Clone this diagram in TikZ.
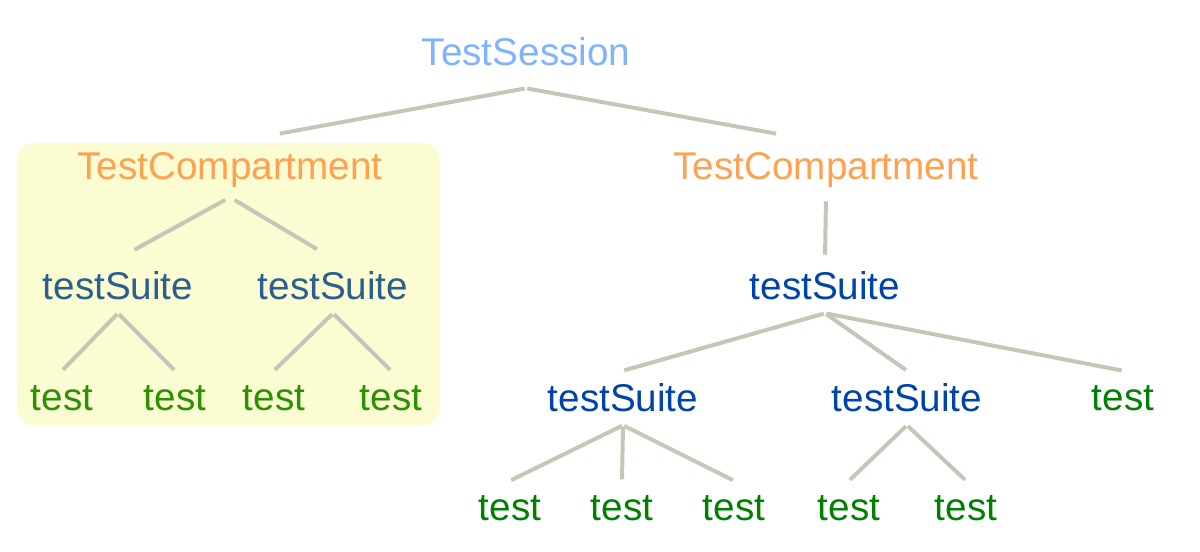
\documentclass[tikz,border=0pt]{standalone}
\usepackage{fontspec}
\setmainfont{Liberation Sans}
\definecolor{sessionc}{HTML}{80B3FF}
\definecolor{compc}{HTML}{FFA150}
\definecolor{suitec}{HTML}{0044AA}
\definecolor{suiteb}{HTML}{2B5F8F}
\definecolor{testc}{HTML}{008000}
\definecolor{testb}{HTML}{2A9200}
\definecolor{edgec}{HTML}{C8C4B7}
\definecolor{boxc}{HTML}{FBFCD2}
\begin{document}
\begin{tikzpicture} [
    x=0.75pt, y=-0.75pt,
    block/.style    = { rectangle, draw=none, text centered, inner sep=0pt,
                        minimum height=40.5pt, font=\fontsize{29}{34}\selectfont },
    session/.style  = { block, text=sessionc, minimum height=54pt },
    comp/.style     = { block, text=compc },
    suite/.style    = { block, text=suitec },
    test/.style     = { block, text=testc },
    line/.style     = { draw=edgec, line width=3pt, shorten <=1pt, shorten >=1pt },
  ]

  \useasboundingbox (0,0) rectangle (1200,552);
  \fill[boxc, rounded corners=13pt] (17,143) rectangle (440,425);

  % Define nodes
  \node[session](session) at (526,52) {TestSession};
  \node[comp](compL)  at (230,170) {TestCompartment};
  \node[comp](compR)  at (826,170) {TestCompartment};
  \node[suite, text=suiteb](suiteLa) at (118,286) {testSuite};
  \node[suite, text=suiteb](suiteLb) at (333,286) {testSuite};
  \node[test, text=testb](testLa) at (62,398)  {test};
  \node[test, text=testb](testLb) at (175,398) {test};
  \node[test, text=testb](testLc) at (274,398) {test};
  \node[test, text=testb](testLd) at (391,398) {test};
  \node[suite](suiteR)  at (825,286) {testSuite};
  \node[suite](suiteRa) at (623,398) {testSuite};
  \node[suite](suiteRb) at (907,398) {testSuite};
  \node[test](testR)  at (1123,398) {test};
  \node[test](testRa) at (510,508) {test};
  \node[test](testRb) at (622,508) {test};
  \node[test](testRc) at (734,508) {test};
  \node[test](testRd) at (849,508) {test};
  \node[test](testRe) at (966,508) {test};

  % connect the nodes
  \path [line, shorten >=38pt] (session.south) -- (compL.north);
  \path [line, shorten >=38pt] (session.south) -- (compR.north);
  \path [line, shorten <=4pt, shorten >=14pt] (compL.south) -- (suiteLa.north);
  \path [line, shorten <=4pt, shorten >=14pt] (compL.south) -- (suiteLb.north);
  \path [line] (suiteLa.south) -- (testLa.north);
  \path [line] (suiteLa.south) -- (testLb.north);
  \path [line] (suiteLb.south) -- (testLc.north);
  \path [line] (suiteLb.south) -- (testLd.north);
  \path [line, shorten >=3pt, shorten <=3pt] (compR.south) -- (suiteR.north);
  \path [line] (suiteR.south) -- (suiteRa.north);
  \path [line] (suiteR.south) -- (suiteRb.north);
  \path [line] (suiteR.south) -- (testR.north);
  \path [line] (suiteRa.south) -- (testRa.north);
  \path [line] (suiteRa.south) -- (testRb.north);
  \path [line] (suiteRa.south) -- (testRc.north);
  \path [line] (suiteRb.south) -- (testRd.north);
  \path [line] (suiteRb.south) -- (testRe.north);
\end{tikzpicture}
\end{document}
